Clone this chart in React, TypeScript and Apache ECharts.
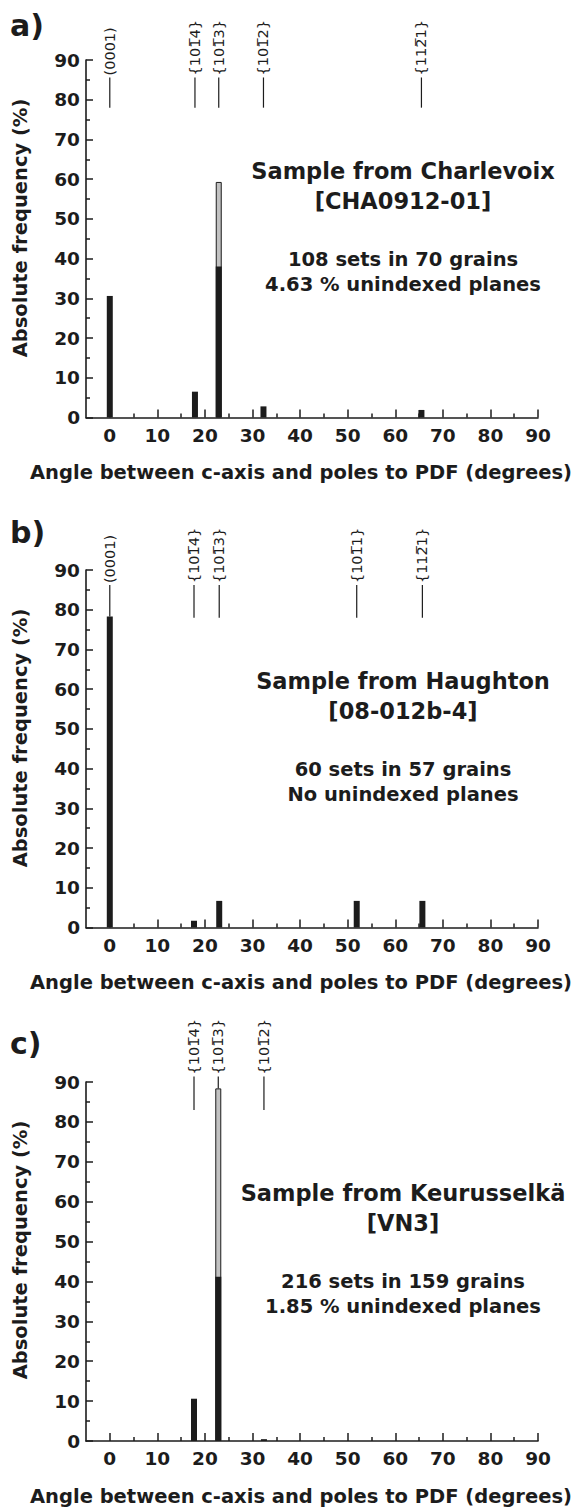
import React, { useEffect, useRef } from "react";
import * as echarts from "echarts";

// ---------- data ----------
const xMajorTicks = [0, 10, 20, 30, 40, 50, 60, 70, 80, 90];
const xMinorTicks = [5, 15, 25, 35, 45, 55, 65, 75, 85];

// Panel a — Charlevoix
const anglesA = [0, 17.9, 22.9, 32.3, 65.5];
const indexedA = [30.6, 6.5, 38.0, 2.8, 1.9];
const unindexedA = [0, 0, 21.3, 0, 0];
const planeAnglesA = [0, 17.9, 22.9, 32.3, 65.5];
const planeLabelsA = ["(0001)", "{101\u03054}", "{101\u03053}", "{101\u03052}", "{112\u03051}"];
const planeLineBottomA = [78, 78, 78, 78, 78];
const planeLineTopA = [85.6, 85.6, 85.6, 85.6, 85.6];
const textA = ["Sample from Charlevoix", "[CHA0912-01]", "108 sets in 70 grains", "4.63 % unindexed planes"];

// Panel b — Haughton
const anglesB = [0, 17.7, 23.0, 51.9, 65.7];
const indexedB = [78.3, 1.7, 6.7, 6.7, 6.7];
const unindexedB = [0, 0, 0, 0, 0];
const planeAnglesB = [0, 17.7, 23.0, 51.9, 65.7];
const planeLabelsB = ["(0001)", "{101\u03054}", "{101\u03053}", "{101\u03051}", "{112\u03051}"];
const planeLineBottomB = [78.3, 78, 78, 78, 78];
const planeLineTopB = [86.2, 86.2, 86.2, 86.2, 86.2];
const textB = ["Sample from Haughton", "[08-012b-4]", "60 sets in 57 grains", "No unindexed planes"];

// Panel c — Keurusselkä
const anglesC = [17.7, 22.8, 32.4];
const indexedC = [10.6, 41.2, 0.46];
const unindexedC = [0, 47.2, 0];
const planeAnglesC = [17.7, 22.8, 32.4];
const planeLabelsC = ["{101\u03054}", "{101\u03053}", "{101\u03052}"];
const planeLineBottomC = [83, 88.4, 83];
const planeLineTopC = [91.4, 91.4, 91.4];
const textC = ["Sample from Keurusselkä", "[VN3]", "216 sets in 159 grains", "1.85 % unindexed planes"];

const panelLetters = ["a)", "b)", "c)"];
const xAxisName = "Angle between c-axis and poles to PDF (degrees)";
const yAxisName = "Absolute frequency (%)";

// ---------- layout ----------
const FONT = '"DejaVu Sans", "Liberation Sans", Arial, sans-serif';
const INK = "#1c1c1c";
const GRID_LEFT = 86;
const GRID_WIDTH = 452;
const gridTops = [60, 570, 1082];
const gridHeights = [357.5, 357.5, 359];
const letterY = [25, 532, 1043];

const panels = [
  { angles: anglesA, indexed: indexedA, unindexed: unindexedA, pa: planeAnglesA, pl: planeLabelsA, pb: planeLineBottomA, pt: planeLineTopA, text: textA },
  { angles: anglesB, indexed: indexedB, unindexed: unindexedB, pa: planeAnglesB, pl: planeLabelsB, pb: planeLineBottomB, pt: planeLineTopB, text: textB },
  { angles: anglesC, indexed: indexedC, unindexed: unindexedC, pa: planeAnglesC, pl: planeLabelsC, pb: planeLineBottomC, pt: planeLineTopC, text: textC },
];

function buildOption() {
  const grid: any[] = [];
  const xAxis: any[] = [];
  const yAxis: any[] = [];
  const series: any[] = [];
  const graphic: any[] = [];

  panels.forEach((p, i) => {
    const top = gridTops[i];
    const h = gridHeights[i];
    grid.push({ left: GRID_LEFT, top, width: GRID_WIDTH, height: h, containLabel: false });

    xAxis.push({
      type: "value",
      gridIndex: i,
      position: "bottom",
      min: -5,
      max: 90,
      splitLine: { show: false },
      axisLine: { show: true, onZero: false, lineStyle: { color: INK, width: 1.6 } },
      axisTick: { show: true, inside: true, length: 8, customValues: xMajorTicks, lineStyle: { color: INK, width: 1.5 } },
      axisLabel: { show: true, customValues: xMajorTicks, margin: 8, color: INK, fontFamily: FONT, fontWeight: "bold", fontSize: 18.5 },
    });
    xAxis.push({
      type: "value",
      gridIndex: i,
      position: "bottom",
      offset: 0,
      min: -5,
      max: 90,
      splitLine: { show: false },
      axisLine: { show: false, onZero: false },
      axisTick: { show: true, inside: true, length: 4, customValues: xMinorTicks, lineStyle: { color: INK, width: 1.5 } },
      axisLabel: { show: false, customValues: xMinorTicks },
    });
    yAxis.push({
      type: "value",
      gridIndex: i,
      position: "left",
      min: 0,
      max: 90,
      interval: 10,
      splitLine: { show: false },
      axisLine: { show: true, onZero: false, lineStyle: { color: INK, width: 1.6 } },
      axisTick: { show: true, inside: true, length: 7, lineStyle: { color: INK, width: 1.5 } },
      minorTick: { show: true, splitNumber: 2, length: 4, lineStyle: { color: INK, width: 1.5 } },
      axisLabel: { margin: 6, color: INK, fontFamily: FONT, fontWeight: "bold", fontSize: 18.5 },
    });

    const totalData: any[] = [];
    p.angles.forEach((a, k) => {
      if (p.unindexed[k] > 0) totalData.push([a, p.indexed[k] + p.unindexed[k]]);
    });
    series.push({
      type: "bar",
      name: "unindexed",
      xAxisIndex: 2 * i,
      yAxisIndex: i,
      barWidth: 6,
      barGap: "-100%",
      data: totalData,
      itemStyle: { color: "#c2c2c2", borderColor: INK, borderWidth: 1 },
    });
    series.push({
      type: "bar",
      name: "indexed",
      xAxisIndex: 2 * i,
      yAxisIndex: i,
      barWidth: 6,
      barGap: "-100%",
      data: p.angles.map((a, k) => [a, p.indexed[k]]),
      itemStyle: { color: INK },
    });

    const labels = p.pl;
    series.push({
      type: "custom",
      xAxisIndex: 2 * i,
      yAxisIndex: i,
      clip: false,
      z: 5,
      data: p.pa.map((a, k) => [a, p.pb[k], p.pt[k]]),
      renderItem: (params: any, api: any) => {
        const x = api.value(0);
        const p0 = api.coord([x, api.value(1)]);
        const p1 = api.coord([x, api.value(2)]);
        return {
          type: "group",
          children: [
            { type: "line", shape: { x1: p0[0], y1: p0[1], x2: p1[0], y2: p1[1] }, style: { stroke: INK, lineWidth: 1.2 } },
            {
              type: "text",
              x: p1[0],
              y: p1[1] - 2,
              rotation: Math.PI / 2,
              style: { text: labels[params.dataIndex], font: `14.5px ${FONT}`, fill: INK, textAlign: "left", textVerticalAlign: "middle" },
            },
          ],
        };
      },
    });

    // annotations
    const offs = [111, 141, 199, 224];
    const sizes = [22.5, 22.5, 19.5, 19.5];
    p.text.forEach((t, k) => {
      graphic.push({
        type: "text",
        x: 403,
        y: top + offs[k],
        style: { text: t, font: `bold ${sizes[k]}px ${FONT}`, fill: INK, textAlign: "center", textVerticalAlign: "middle" },
      });
    });
    // panel letter
    graphic.push({
      type: "text",
      x: 10,
      y: letterY[i],
      style: { text: panelLetters[i], font: `bold 30px ${FONT}`, fill: INK, textAlign: "left", textVerticalAlign: "middle" },
    });
    // axis names
    graphic.push({
      type: "text",
      x: 301,
      y: top + h + 55,
      style: { text: xAxisName, font: `bold 19.5px ${FONT}`, fill: INK, textAlign: "center", textVerticalAlign: "middle" },
    });
    graphic.push({
      type: "text",
      x: 20,
      y: top + 168,
      rotation: Math.PI / 2,
      style: { text: yAxisName, font: `bold 19.5px ${FONT}`, fill: INK, textAlign: "center", textVerticalAlign: "middle" },
    });
  });

  return { animation: false, backgroundColor: "#ffffff", grid, xAxis, yAxis, series, graphic };
}

export default function App() {
  const ref = useRef<HTMLDivElement>(null);
  useEffect(() => {
    if (!ref.current) return;
    const chart = echarts.init(ref.current, undefined, { renderer: "svg" });
    chart.setOption(buildOption() as any);
    return () => chart.dispose();
  }, []);
  return <div ref={ref} style={{ position: "absolute", left: 0, top: 0, width: 581, height: 1511, background: "#fff" }} />;
}
